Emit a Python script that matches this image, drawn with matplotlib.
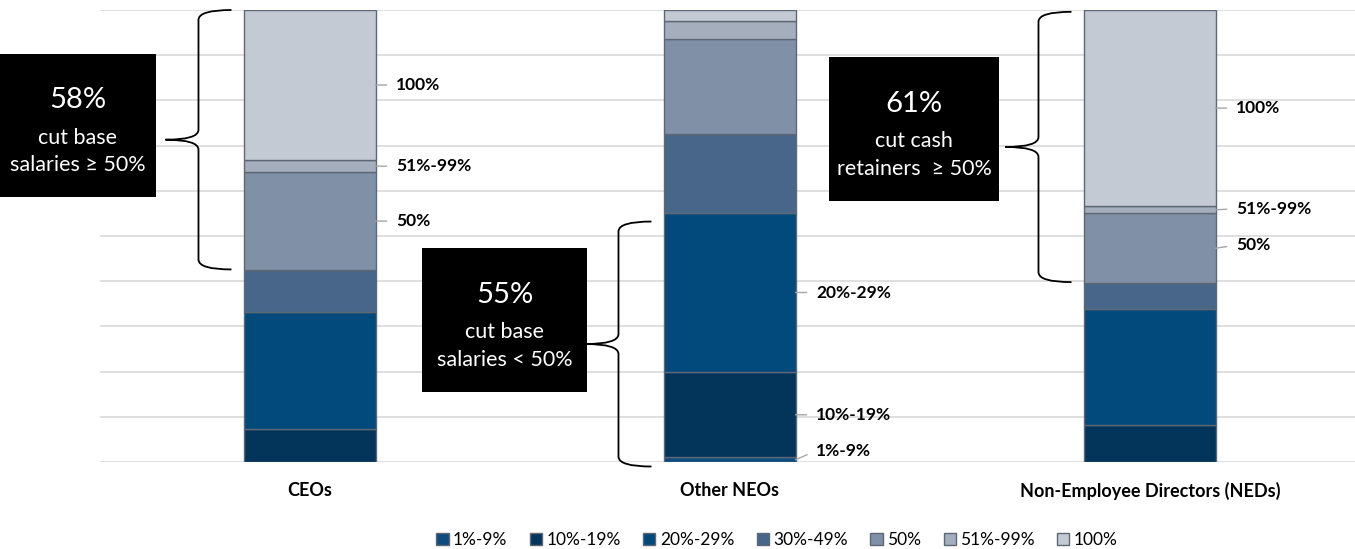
import numpy as np
import matplotlib.pyplot as plt
from matplotlib.patches import Rectangle, PathPatch
from matplotlib.path import Path

plt.rcParams["font.family"] = ["Lato", "DejaVu Sans"]

categories = ["CEOs", "Other NEOs", "Non-Employee Directors (NEDs)"]
bands = ["1%-9%", "10%-19%", "20%-29%", "30%-49%", "50%", "51%-99%", "100%"]

cut_1_9 = [0.0, 1.0, 0.0]
cut_10_19 = [7.4, 18.9, 8.2]
cut_20_29 = [25.8, 35.2, 25.6]
cut_30_49 = [9.3, 17.5, 5.8]
cut_50 = [21.6, 21.0, 15.4]
cut_51_99 = [2.7, 4.0, 1.6]
cut_100 = [33.2, 2.4, 43.4]

colors = ["#0e4c7e", "#03355a", "#014a7b", "#48668a", "#8090a6", "#a4aebd", "#c3cad4"]

# which segments get a label: (bar index, band index, y offset in px)
labelled = [
    (0, 6, 0), (0, 5, 0), (0, 4, 0),
    (1, 2, 0), (1, 1, 0), (1, 0, 9),
    (2, 6, 0), (2, 5, 1), (2, 4, 3),
]

# callout boxes: (text big, text small, box in px: x0, y0, x1, y1)
callouts = [
    ("58%", "cut base\nsalaries \u2265 50%", (0, 54, 156, 197)),
    ("55%", "cut base\nsalaries < 50%", (422, 248, 587, 392)),
    ("61%", "cut cash\nretainers  \u2265 50%", (829, 57, 999, 201)),
]
# braces: (bar index, top %, bottom %)
braces = [(0, 100.0, 42.6), (1, 53.2, -1.0), (2, 99.6, 39.8)]

series = [cut_1_9, cut_10_19, cut_20_29, cut_30_49, cut_50, cut_51_99, cut_100]

W, H = 1355, 549
fig = plt.figure(figsize=(W / 100, H / 100), dpi=100)
ax = fig.add_axes([100 / W, 1 - 462 / H, 1260 / W, 452 / H])

x = np.arange(len(categories))
width = 0.312
bottom = np.zeros(len(categories))
for vals, col, name in zip(series, colors, bands):
    ax.bar(x, vals, width, bottom=bottom, color=col, edgecolor="#5d6874",
           linewidth=1.0, label=name, zorder=3)
    bottom += np.array(vals)

ax.set_xlim(-0.5, 2.5)
ax.set_ylim(0, 100)
ax.set_yticks(np.arange(0, 101, 10))
ax.yaxis.grid(True, color="#d9d9d9", linewidth=1.2, zorder=0)
ax.set_yticklabels([])
ax.tick_params(left=False, bottom=False)
ax.set_xticks(x)
ax.set_xticklabels(categories, fontweight="bold", fontsize=13)
ax.tick_params(axis="x", pad=11)
for s in ax.spines.values():
    s.set_visible(False)

# segment labels with leader lines
cum = np.cumsum(np.array(series), axis=0)
for bi, si, dy in labelled:
    top = cum[si, bi]
    mid = top - series[si][bi] / 2
    ax.annotate(bands[si], xy=(bi + width / 2, mid), xytext=(15, dy * 0.72),
                textcoords="offset points", va="center", ha="left",
                fontsize=12.5, fontweight="bold",
                arrowprops=dict(arrowstyle="-", color="#a6a6a6", lw=1.0,
                                shrinkA=5, shrinkB=0, relpos=(0, 0.5)))

# curly braces left of bars
px = 1 / 420
for bi, top, bot in braces:
    left = bi - width / 2
    xe, xv, xt = left - 13 * px, left - 46 * px, left - 79 * px
    mid = (top + bot) / 2
    r = 2.2
    verts = [(xe, top), (xv, top), (xv, top - r),
             (xv, mid + r), (xv, mid), (xt, mid),
             (xv, mid), (xv, mid - r),
             (xv, bot + r), (xv, bot), (xe, bot)]
    codes = [Path.MOVETO, Path.CURVE3, Path.CURVE3,
             Path.LINETO, Path.CURVE3, Path.CURVE3,
             Path.CURVE3, Path.CURVE3,
             Path.LINETO, Path.CURVE3, Path.CURVE3]
    ax.add_patch(PathPatch(Path(verts, codes), fill=False, color="black",
                           lw=1.3, clip_on=False, zorder=4))

# black callout boxes
for big, small, (x0, y0, x1, y1) in callouts:
    fig.patches.append(Rectangle((x0 / W, 1 - y1 / H), (x1 - x0) / W, (y1 - y0) / H,
                                 transform=fig.transFigure, facecolor="black",
                                 edgecolor="none", zorder=5))
    cx = (x0 + x1) / 2 / W
    cy = (y0 + y1) / 2
    fig.text(cx, 1 - (cy - 25) / H, big, color="white", fontsize=21,
             ha="center", va="center", zorder=6)
    fig.text(cx, 1 - (cy + 26) / H, small, color="white", fontsize=15.5,
             ha="center", va="center", linespacing=1.45, zorder=6)

fig.legend(*ax.get_legend_handles_labels(), loc="center", ncol=7,
           bbox_to_anchor=(777 / W, 1 - 540 / H), frameon=False,
           fontsize=12.5, handlelength=0.7, handleheight=0.7,
           handletextpad=0.25, columnspacing=1.3)

fig.savefig("out.png", dpi=100)
